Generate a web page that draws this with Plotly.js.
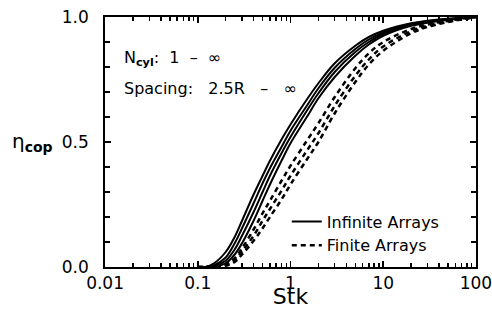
<!DOCTYPE html>
<html>
<head>
<meta charset="utf-8">
<script src="https://cdn.plot.ly/plotly-3.0.1.min.js"></script>
<style>html,body{margin:0;padding:0;background:#fff;}</style>
</head>
<body>
<div id="chart"></div>
<script>
// Stokes number grid (x) shared by all curves
const stk = [0.1, 0.12, 0.15, 0.2, 0.25, 0.3, 0.4, 0.5, 0.6, 0.8, 1, 1.5, 2, 3, 5, 7, 10, 20, 30, 50, 100];

// Infinite arrays (solid)
const inf1 = [0, 0, 0.015, 0.06, 0.12, 0.185, 0.29, 0.365, 0.425, 0.51, 0.57, 0.67, 0.735, 0.815, 0.885, 0.92, 0.945, 0.975, 0.985, 0.993, 1.0];
const inf2 = [0, 0, 0.007, 0.038, 0.095, 0.155, 0.255, 0.335, 0.395, 0.48, 0.545, 0.645, 0.715, 0.797, 0.872, 0.91, 0.938, 0.972, 0.983, 0.992, 1.0];
const inf3 = [0, 0, 0.003, 0.025, 0.07, 0.125, 0.22, 0.30, 0.365, 0.455, 0.52, 0.625, 0.695, 0.78, 0.86, 0.9, 0.932, 0.968, 0.98, 0.99, 1.0];
const inf4 = [0, 0, 0, 0.015, 0.05, 0.095, 0.185, 0.265, 0.33, 0.425, 0.495, 0.60, 0.675, 0.76, 0.845, 0.89, 0.925, 0.965, 0.977, 0.989, 1.0];

// Finite arrays (dashed)
const fin1 = [0, 0, 0, 0.012, 0.035, 0.075, 0.15, 0.215, 0.265, 0.345, 0.405, 0.505, 0.575, 0.68, 0.795, 0.855, 0.9, 0.952, 0.97, 0.985, 1.0];
const fin2 = [0, 0, 0, 0.008, 0.027, 0.062, 0.125, 0.185, 0.232, 0.305, 0.365, 0.465, 0.535, 0.645, 0.765, 0.83, 0.882, 0.943, 0.965, 0.982, 1.0];
const fin3 = [0, 0, 0, 0.005, 0.02, 0.05, 0.105, 0.155, 0.2, 0.27, 0.33, 0.43, 0.50, 0.615, 0.74, 0.81, 0.865, 0.935, 0.96, 0.98, 1.0];

const legendNames = ['Infinite Arrays', 'Finite Arrays'];
const infSeries = [inf1, inf2, inf3, inf4];
const finSeries = [fin1, fin2, fin3];

const data = [];
infSeries.forEach(function (ys, i) {
  data.push({x: stk, y: ys, mode: 'lines', line: {color: '#000', width: 2, shape: 'spline'},
             name: legendNames[0], showlegend: i === 0});
});
finSeries.forEach(function (ys, i) {
  data.push({x: stk, y: ys, mode: 'lines', line: {color: '#000', width: 2.5, dash: '5px,4px', shape: 'spline'},
             name: legendNames[1], showlegend: i === 0});
});

const fam = 'DejaVu Sans, sans-serif';

Plotly.newPlot('chart', data, {
  width: 492, height: 309,
  margin: {l: 105, r: 16, t: 17, b: 42},
  showlegend: true,
  legend: {x: 0.49, y: 0.25, xanchor: 'left', yanchor: 'top', bgcolor: 'rgba(0,0,0,0)',
           font: {family: fam, size: 16, color: '#000'}},
  xaxis: {
    type: 'log', range: [-2.0005, 2.0005], dtick: 1,
    ticks: 'inside', ticklen: 6, tickwidth: 1.5, tickcolor: '#000',
    showline: true, linecolor: '#000', linewidth: 2, mirror: 'allticks',
    showgrid: false, zeroline: false,
    minor: {ticks: 'inside', ticklen: 4, tickwidth: 1.5, tickcolor: '#000', showgrid: false},
    tickfont: {family: fam, size: 17, color: '#000'}, ticklabeloverflow: 'allow',
    title: {text: 'Stk', font: {family: fam, size: 22, color: '#000'}, standoff: 2}
  },
  yaxis: {
    range: [0, 1], tick0: 0, dtick: 0.5, tickformat: '.1f', ticksuffix: '\u00a0\u00a0',
    ticks: 'inside', ticklen: 6, tickwidth: 1.5, tickcolor: '#000',
    showline: true, linecolor: '#000', linewidth: 2, mirror: 'allticks',
    showgrid: false, zeroline: false,
    minor: {dtick: 0.1, ticks: 'inside', ticklen: 5, tickwidth: 1.5, tickcolor: '#000', showgrid: false},
    tickfont: {family: fam, size: 17, color: '#000'}
  },
  annotations: [
    {xref: 'paper', yref: 'paper', x: -0.255, y: 0.5, xanchor: 'left', yanchor: 'middle', showarrow: false,
     text: 'η<sub><b>cop</b></sub>', font: {family: fam, size: 20, color: '#000'}},
    {xref: 'paper', yref: 'paper', x: 0.045, y: 0.835, xanchor: 'left', yanchor: 'middle', showarrow: false,
     text: 'N<sub><b>cyl</b></sub>:  1  –  ∞', font: {family: fam, size: 16, color: '#000'}},
    {xref: 'paper', yref: 'paper', x: 0.045, y: 0.715, xanchor: 'left', yanchor: 'middle', showarrow: false,
     text: 'Spacing:   2.5R   –   ∞', font: {family: fam, size: 16, color: '#000'}}
  ]
}, {displayModeBar: false, staticPlot: true});
</script>
</body>
</html>
